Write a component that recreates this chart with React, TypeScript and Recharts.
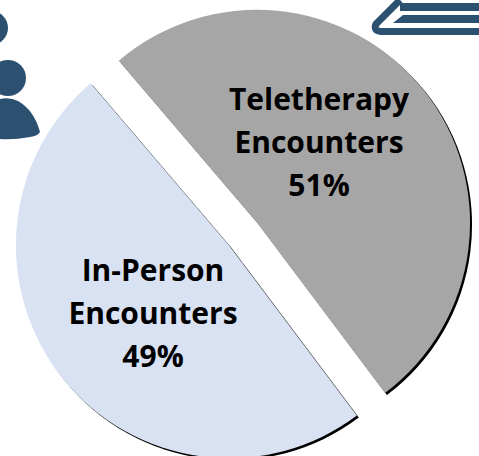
import { PieChart, Pie, Cell, Sector } from 'recharts';

const categories = ['Teletherapy Encounters', 'In-Person Encounters'];
const shares = [51, 49];
const sliceColors = ['#a6a6a6', '#d9e2f3'];
// label block anchor for each slice: centre x and first baseline, in chart pixels
const labelAnchors = [
  { x: 319, y: 110 },
  { x: 153, y: 281 },
];

const chartData = categories.map((name, i) => ({ name, value: shares[i] }));

const EXPLODE = 18;
const ICON_BLUE = '#2c5070';

function ExplodedSlice(props: any) {
  const rad = (props.midAngle * Math.PI) / 180;
  return (
    <g style={{ filter: 'drop-shadow(2.5px 2.5px 0.5px #000)' }}>
      <Sector
        {...props}
        cx={props.cx + EXPLODE * Math.cos(rad)}
        cy={props.cy - EXPLODE * Math.sin(rad)}
        stroke="none"
      />
    </g>
  );
}

function SliceLabel(props: any) {
  const i = props.index;
  const words = categories[i].split(' ');
  const lines = [...words, `${shares[i]}%`];
  const { x, y } = labelAnchors[i];
  return (
    <text
      x={x}
      y={y}
      textAnchor="middle"
      fontFamily="'Open Sans', sans-serif"
      fontWeight={700}
      fontSize={30}
      fill="#000"
    >
      {lines.map((line, n) => (
        <tspan key={line} x={x} y={y + n * 43}>
          {line}
        </tspan>
      ))}
    </text>
  );
}

function Icons() {
  return (
    <svg
      width={479}
      height={456}
      style={{ position: 'absolute', left: 0, top: 0 }}
    >
      <circle cx={-9} cy={28} r={17} fill={ICON_BLUE} />
      <circle cx={8} cy={78} r={18} fill={ICON_BLUE} />
      <path
        d="M0 139 L0 99 Q10 97 18 101 Q34 110 40 132 Q38 136 30 137 Q14 140 0 139 Z"
        fill={ICON_BLUE}
      />
      <path
        d="M400 0 L376 24 Q373 31 381 31.5 L479 31.5"
        fill="none"
        stroke={ICON_BLUE}
        strokeWidth={7}
      />
      <path d="M400 3 L479 3 L479 11 L400 11 Z" fill={ICON_BLUE} />
      <path d="M393 23 L403 15 L479 15 L479 23 Z" fill={ICON_BLUE} />
    </svg>
  );
}

export default function App() {
  return (
    <div
      style={{
        position: 'fixed',
        left: 0,
        top: 0,
        width: 479,
        height: 456,
        overflow: 'hidden',
        background: '#fff',
      }}
    >
      <Icons />
      <div style={{ position: 'absolute', left: 0, top: 0 }}>
        <PieChart
          width={479}
          height={456}
          margin={{ top: 0, right: 0, bottom: 0, left: 0 }}
        >
          <Pie
            data={chartData}
            dataKey="value"
            nameKey="name"
            cx={243}
            cy={234}
            innerRadius={0}
            outerRadius={213}
            startAngle={130.5}
            endAngle={-229.5}
            shape={ExplodedSlice}
            label={SliceLabel}
            labelLine={false}
            stroke="none"
            isAnimationActive={false}
          >
            {chartData.map((_, i) => (
              <Cell key={`cell-${i}`} fill={sliceColors[i]} />
            ))}
          </Pie>
        </PieChart>
      </div>
    </div>
  );
}
